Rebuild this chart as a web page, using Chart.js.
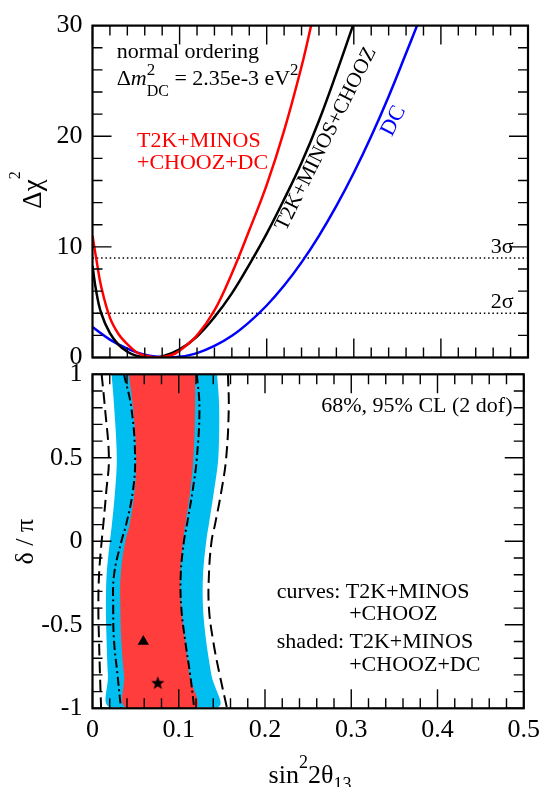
<!DOCTYPE html>
<html>
<head>
<meta charset="utf-8">
<script src="https://cdn.jsdelivr.net/npm/chart.js@4.4.1/dist/chart.umd.min.js"></script>
<style>
  html, body { margin: 0; padding: 0; background: #fff; }
  #wrap { position: relative; width: 546px; height: 787px; }
  #wrap canvas { position: absolute; left: 0; top: 0; }
</style>
</head>
<body>
<div id="wrap">
  <canvas id="chi-chart" width="546" height="787"></canvas>
  <canvas id="delta-chart" width="546" height="787"></canvas>
</div>
<script>
// ---- top panel: delta chi^2 vs sin^2 2theta13 ----
const comboX    = [0, 0.005, 0.01, 0.02, 0.03, 0.04, 0.05, 0.06, 0.075, 0.09, 0.1, 0.12, 0.14, 0.16, 0.18, 0.2, 0.22, 0.24, 0.251];
const comboChi2 = [11, 8.6, 6.4, 3.6, 2.1, 1.2, 0.5, 0.18, 0, 0.2, 0.62, 2.0, 4.25, 7.6, 11.5, 15.6, 20.5, 26.3, 30];
const noDcX     = [0, 0.004, 0.01, 0.02, 0.03, 0.04, 0.05, 0.06, 0.068, 0.08, 0.1, 0.12, 0.14, 0.16, 0.18, 0.2, 0.22, 0.24, 0.26, 0.28, 0.299];
const noDcChi2  = [8.3, 6.1, 4.0, 2.2, 1.15, 0.52, 0.17, 0.02, 0, 0.1, 0.73, 1.9, 3.65, 5.8, 8.4, 11.2, 14.3, 17.6, 21.4, 25.7, 30];
const dcX       = [0, 0.02, 0.04, 0.06, 0.087, 0.1, 0.12, 0.14, 0.16, 0.18, 0.2, 0.22, 0.24, 0.26, 0.28, 0.3, 0.32, 0.34, 0.36, 0.3726];
const dcChi2    = [2.75, 1.62, 0.8, 0.26, 0, 0.06, 0.4, 1.04, 1.96, 3.2, 4.7, 6.5, 8.6, 11.0, 13.7, 16.7, 20.0, 23.6, 27.5, 30];
const sigmaLevels = [9, 4];
const chiTicks = [0, 10, 20, 30];
const chiTickLabels = ['0', '10', '20', '30'];

// ---- bottom panel: delta/pi vs sin^2 2theta13 (x positions of contour edges) ----
const deltaGrid     = [1, 0.8, 0.5, 0.3, 0.1, 0, -0.2, -0.4, -0.6, -0.8, -1];
const shaded68Left  = [0.042, 0.047, 0.0506, 0.0487, 0.043, 0.038, 0.0327, 0.0323, 0.0335, 0.0365, 0.040];
const shaded68Right = [0.119, 0.119, 0.117, 0.1133, 0.1076, 0.105, 0.1019, 0.103, 0.1076, 0.1125, 0.119];
const shaded95Left  = [0.021, 0.024, 0.027, 0.025, 0.0213, 0.019, 0.0152, 0.0144, 0.0152, 0.0167, 0.020];
const shaded95Right = [0.1456, 0.148, 0.147, 0.142, 0.136, 0.133, 0.1293, 0.1293, 0.133, 0.139, 0.1456];
const curve68Left   = [0.0365, 0.045, 0.0494, 0.0468, 0.039, 0.0335, 0.025, 0.024, 0.025, 0.029, 0.033];
const curve68Right  = [0.121, 0.124, 0.121, 0.116, 0.1095, 0.106, 0.1023, 0.103, 0.1076, 0.1133, 0.118];
const curve95Left   = [0.0106, 0.0144, 0.019, 0.016, 0.0125, 0.0106, 0.0076, 0.0068, 0.0076, 0.0087, 0.010];
const curve95Right  = [0.157, 0.158, 0.155, 0.1494, 0.142, 0.138, 0.135, 0.135, 0.140, 0.1475, 0.156];
const triangleFit = { x: 0.0589, y: -0.60 };
const starFit     = { x: 0.0757, y: -0.847 };
const xTicks = [0, 0.1, 0.2, 0.3, 0.4, 0.5];
const xTickLabels = ['0', '0.1', '0.2', '0.3', '0.4', '0.5'];
const deltaTicks = [-1, -0.5, 0, 0.5, 1];
const deltaTickLabels = ['-1', '-0.5', '0', '0.5', '1'];

const SERIF = '"Liberation Serif", "Times New Roman", serif';
const RED = '#ff0000', BLUE = '#0000ff';

function pts(xs, ys) {
    return xs.map((x, i) => ({ x, y: ys[i] }));
}
// closed outline: left edge top->bottom, then right edge bottom->top
function outline(left, right) {
    return pts(left, deltaGrid).concat(pts(right, deltaGrid).reverse());
}

function drawLabel(ctx, lab) {
    ctx.save();
    ctx.translate(lab.x, lab.y);
    if (lab.rot) ctx.rotate(lab.rot * Math.PI / 180);
    ctx.fillStyle = lab.color || '#000';
    ctx.textBaseline = lab.baseline || 'alphabetic';
    ctx.textAlign = 'left';
    const fontOf = p => (p.italic ? 'italic ' : '') + p.size + 'px ' + SERIF;
    let total = 0;
    const adv = lab.parts.map(p => {
        ctx.font = fontOf(p);
        const w = p.adv !== undefined ? p.adv : ctx.measureText(p.t).width;
        total += w;
        return w;
    });
    let x = lab.align === 'center' ? -total / 2 : lab.align === 'right' ? -total : 0;
    lab.parts.forEach((p, i) => {
        ctx.font = fontOf(p);
        ctx.fillText(p.t, x, p.dy || 0);
        x += adv[i];
    });
    ctx.restore();
}

// inward ticks on all four sides, box frame, and the text labels
const panelFrame = {
    id: 'panelFrame',
    afterDatasetsDraw(chart, args, opts) {
        const { ctx, chartArea: a } = chart;
        const xs = chart.scales.x, ys = chart.scales.y;
        ctx.save();
        ctx.strokeStyle = '#000';
        ctx.lineWidth = 1.4;
        ctx.beginPath();
        const nx = Math.round((xs.max - xs.min) / opts.xMinor);
        for (let i = 0; i <= nx; i++) {
            const px = xs.getPixelForValue(xs.min + i * opts.xMinor);
            const len = i % opts.xEvery === 0 ? 19 : 10;
            ctx.moveTo(px, a.bottom); ctx.lineTo(px, a.bottom - len);
            ctx.moveTo(px, a.top); ctx.lineTo(px, a.top + len);
        }
        const ny = Math.round((ys.max - ys.min) / opts.yMinor);
        for (let i = 0; i <= ny; i++) {
            const py = ys.getPixelForValue(ys.min + i * opts.yMinor);
            const len = i % opts.yEvery === 0 ? 19 : 10;
            ctx.moveTo(a.left, py); ctx.lineTo(a.left + len, py);
            ctx.moveTo(a.right, py); ctx.lineTo(a.right - len, py);
        }
        ctx.stroke();
        ctx.lineWidth = 2.2;
        ctx.strokeRect(a.left, a.top, a.right - a.left, a.bottom - a.top);
        ctx.restore();
    },
    afterDraw(chart, args, opts) {
        (opts.labels || []).forEach(l => drawLabel(chart.ctx, l));
    }
};

function starImage(r) {
    const c = document.createElement('canvas');
    c.width = c.height = 2 * r + 2;
    const g = c.getContext('2d');
    g.beginPath();
    for (let i = 0; i < 10; i++) {
        const rr = i % 2 ? r * 0.42 : r;
        const ang = -Math.PI / 2 + i * Math.PI / 5;
        g.lineTo(r + 1 + rr * Math.cos(ang), r + 1.6 + rr * Math.sin(ang));
    }
    g.closePath();
    g.fillStyle = '#000';
    g.fill();
    return c;
}

function yScale(min, max, ticks, labels) {
    return {
        min, max,
        afterBuildTicks: s => { s.ticks = ticks.map(v => ({ value: v })); },
        afterFit: s => { s.width = 92.5; },
        grid: { display: false, drawTicks: false },
        border: { display: false },
        ticks: { padding: 10, color: '#000', font: { family: SERIF, size: 26 },
                 callback: (v, i) => labels[i] }
    };
}

Chart.defaults.animation = false;

// top panel
new Chart(document.getElementById('chi-chart'), {
    type: 'scatter',
    data: {
        datasets: [
            { data: pts(comboX, comboChi2), showLine: true, borderColor: RED, borderWidth: 2.5,
              pointRadius: 0, tension: 0.4 },
            { data: pts(noDcX, noDcChi2), showLine: true, borderColor: '#000', borderWidth: 2.5,
              pointRadius: 0, tension: 0.4 },
            { data: pts(dcX, dcChi2), showLine: true, borderColor: BLUE, borderWidth: 2.5,
              pointRadius: 0, tension: 0.4 },
            ...sigmaLevels.map(lv => ({
                data: [{ x: 0, y: lv }, { x: 0.5, y: lv }], showLine: true, borderColor: '#000',
                borderWidth: 1.5, borderDash: [1.5, 2.8], pointRadius: 0
            }))
        ]
    },
    options: {
        responsive: false,
        devicePixelRatio: 1,
        layout: { padding: { left: 0, right: 18, top: 24.3, bottom: 429.5 } },
        scales: {
            x: { type: 'linear', min: 0, max: 0.5, display: false },
            y: yScale(0, 30, chiTicks, chiTickLabels)
        },
        plugins: {
            legend: { display: false },
            tooltip: { enabled: false },
            panelFrame: {
                xMinor: 0.02, xEvery: 5, yMinor: 2, yEvery: 5,
                labels: [
                    { x: 116.7, y: 57.5, parts: [{ t: 'normal ordering', size: 22 }] },
                    { x: 116.7, y: 85, parts: [
                        { t: 'Δ', size: 22 }, { t: 'm', size: 22, italic: true },
                        { t: '2', size: 17, dy: -10.5, adv: 0 }, { t: 'DC', size: 16, dy: 11 },
                        { t: ' = 2.35e-3 eV', size: 22 }, { t: '2', size: 17, dy: -10.5 }] },
                    { x: 137, y: 147, color: RED, parts: [{ t: 'T2K+MINOS', size: 22 }] },
                    { x: 137, y: 168.5, color: RED, parts: [{ t: '+CHOOZ+DC', size: 22 }] },
                    { x: 326, y: 139, rot: -63.4, align: 'center', baseline: 'middle',
                      parts: [{ t: 'T2K+MINOS+CHOOZ', size: 21 }] },
                    { x: 393.5, y: 121, rot: -63, align: 'center', baseline: 'middle', color: BLUE,
                      parts: [{ t: 'DC', size: 22 }] },
                    { x: 513.6, y: 253, align: 'right', parts: [{ t: '3σ', size: 22 }] },
                    { x: 513.6, y: 308, align: 'right', parts: [{ t: '2σ', size: 22 }] },
                    { x: 41, y: 190, rot: -90, align: 'center',
                      parts: [{ t: 'Δχ', size: 27 }, { t: '2', size: 16, dy: -21 }] }
                ]
            }
        }
    },
    plugins: [panelFrame]
});

// bottom panel
new Chart(document.getElementById('delta-chart'), {
    type: 'scatter',
    data: {
        datasets: [
            { data: [starFit], pointStyle: starImage(7) },
            { data: [triangleFit], pointStyle: 'triangle', pointRadius: 6.5,
              backgroundColor: '#000', borderColor: '#000', borderWidth: 0 },
            { data: pts(curve68Left, deltaGrid), showLine: true, borderColor: '#000', borderWidth: 2,
              borderDash: [9, 3.5, 2, 3.5], pointRadius: 0, tension: 0.4 },
            { data: pts(curve68Right, deltaGrid), showLine: true, borderColor: '#000', borderWidth: 2,
              borderDash: [9, 3.5, 2, 3.5], pointRadius: 0, tension: 0.4 },
            { data: pts(curve95Left, deltaGrid), showLine: true, borderColor: '#000', borderWidth: 2,
              borderDash: [12, 6], pointRadius: 0, tension: 0.4 },
            { data: pts(curve95Right, deltaGrid), showLine: true, borderColor: '#000', borderWidth: 2,
              borderDash: [12, 6], pointRadius: 0, tension: 0.4 },
            { data: outline(shaded68Left, shaded68Right), showLine: true, fill: 'shape',
              backgroundColor: '#ff3d3d', borderColor: 'rgba(0,0,0,0)', pointRadius: 0, tension: 0.4 },
            { data: outline(shaded95Left, shaded95Right), showLine: true, fill: 'shape',
              backgroundColor: '#00bef0', borderColor: '#ffffff', borderWidth: 2, pointRadius: 0, tension: 0.4 }
        ]
    },
    options: {
        responsive: false,
        devicePixelRatio: 1,
        layout: { padding: { left: 0, right: 18, top: 374.3, bottom: 0 } },
        scales: {
            x: {
                type: 'linear', min: 0, max: 0.5,
                afterBuildTicks: s => { s.ticks = xTicks.map(v => ({ value: v })); },
                afterFit: s => { s.height = 78.7; },
                grid: { display: false, drawTicks: false },
                border: { display: false },
                ticks: { padding: 6, color: '#000', font: { family: SERIF, size: 26 },
                         maxRotation: 0, callback: (v, i) => xTickLabels[i] }
            },
            y: yScale(-1, 1, deltaTicks, deltaTickLabels)
        },
        plugins: {
            legend: { display: false },
            tooltip: { enabled: false },
            panelFrame: {
                xMinor: 0.02, xEvery: 5, yMinor: 0.1, yEvery: 5,
                labels: [
                    { x: 512.5, y: 412, align: 'right', parts: [{ t: '68%, 95% CL (2 dof)', size: 22 }] },
                    { x: 276.8, y: 598, parts: [{ t: 'curves: T2K+MINOS', size: 22 }] },
                    { x: 349.2, y: 620, parts: [{ t: '+CHOOZ', size: 22 }] },
                    { x: 276.8, y: 648, parts: [{ t: 'shaded: T2K+MINOS', size: 22 }] },
                    { x: 349.2, y: 671, parts: [{ t: '+CHOOZ+DC', size: 22 }] },
                    { x: 33, y: 541.7, rot: -90, align: 'center', parts: [{ t: 'δ / π', size: 26 }] },
                    { x: 310, y: 783, align: 'center', parts: [
                        { t: 'sin', size: 26 }, { t: '2', size: 18, dy: -15 },
                        { t: '2θ', size: 26 }, { t: '13', size: 18, dy: 7 }] }
                ]
            }
        }
    },
    plugins: [panelFrame]
});
</script>
</body>
</html>
